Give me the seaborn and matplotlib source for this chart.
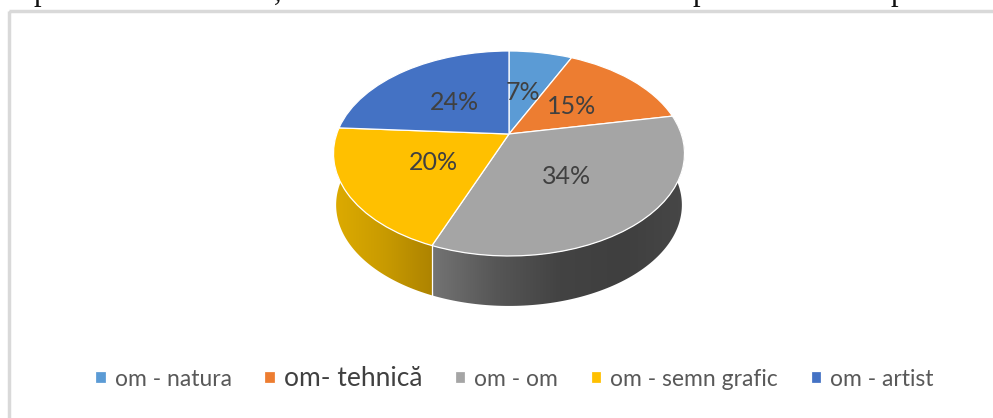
import matplotlib
matplotlib.use('Agg')
import matplotlib.pyplot as plt
import matplotlib.transforms as mtransforms
from matplotlib.colors import LinearSegmentedColormap
from matplotlib.patches import Polygon, Rectangle
import numpy as np
import seaborn as sns

# date
categories = ['om - natura', 'om- tehnică', 'om - om', 'om - semn grafic', 'om - artist']
values = [7, 15, 34, 20, 24]
colors = ['#5B9BD5', '#ED7D31', '#A5A5A5', '#FFC000', '#4472C4']

sns.set_theme(style='white')
plt.rcParams['font.family'] = ['Lato', 'DejaVu Sans']

# geometria discului in perspectiva (pixeli)
CX, CY = 509, 153.5
A, B, C, K = 172.3, 102.5, 19.5, 0.19
DEPTH = 51.5
BOTTOM_SCALE = 0.985


def project(u, v):
    d = 1 + K * v
    return CX + A * u / d, CY - (B * v + C) / d


class DiskProjection(mtransforms.Transform):
    input_dims = 2
    output_dims = 2

    def transform_non_affine(self, xy):
        xy = np.asarray(xy, dtype=float)
        x, y = project(xy[:, 0], xy[:, 1])
        return np.column_stack([x, y])


fig = plt.figure(figsize=(9.93, 4.18), dpi=100)
ax = fig.add_axes([0, 0, 1, 1])

wedges, _, pct_texts = ax.pie(values, colors=colors, startangle=90, counterclock=False,
                              autopct='%d%%', wedgeprops={'edgecolor': 'white', 'linewidth': 0.9})

ax.set_aspect('auto')
ax.set_xlim(0, 993)
ax.set_ylim(418, 0)
ax.axis('off')

proj = DiskProjection()
for w in wedges:
    w.set_transform(proj + ax.transData)
    w.set_zorder(5)
    w.set_clip_on(False)


def side_wall(wedge):
    # peretele lateral al feliei, cu gradient orizontal
    th = np.radians(np.linspace(wedge.theta1, wedge.theta2, 120))
    x1, y1 = project(np.cos(th), np.sin(th))
    x2 = CX + (x1 - CX) * BOTTOM_SCALE
    y2 = CY + (y1 - CY) * BOTTOM_SCALE + DEPTH
    pts = np.column_stack([np.r_[x1, x2[::-1]], np.r_[y1, y2[::-1]]])
    poly = Polygon(pts, closed=True, facecolor='none', edgecolor='none', transform=ax.transData)
    ax.add_patch(poly)
    return poly


gray_cmap = LinearSegmentedColormap.from_list('g', ['#737373', '#565656', '#434343', '#3f3f3f', '#474747'])
yellow_cmap = LinearSegmentedColormap.from_list('y', ['#DDAB00', '#C99B00', '#AD8300'])
grad = np.linspace(0, 1, 256).reshape(1, -1)

gray_wall = side_wall(wedges[2])
im = ax.imshow(grad, extent=(433, 686, 312, 100), aspect='auto', cmap=gray_cmap, zorder=2)
im.set_clip_path(gray_wall)

yellow_wall = side_wall(wedges[3])
im2 = ax.imshow(grad, extent=(334, 433, 312, 100), aspect='auto', cmap=yellow_cmap, zorder=2)
im2.set_clip_path(yellow_wall)

# muchia alba dintre pereti
x0, y0 = project(np.cos(np.radians(wedges[2].theta1)), np.sin(np.radians(wedges[2].theta1)))
ax.plot([x0, x0], [y0, y0 + DEPTH + 0.5], color='white', lw=0.9, zorder=3)

ax.set_xlim(0, 993)
ax.set_ylim(418, 0)

# etichete procentuale
label_pos = [(523, 92), (572, 106), (567, 176), (433, 163), (454, 103)]
for t, pos in zip(pct_texts, label_pos):
    t.set_transform(ax.transData)
    t.set_position(pos)
    t.set_fontsize(18)
    t.set_color('#404040')
    t.set_ha('center')
    t.set_va('center')
    t.set_zorder(6)

# legenda
leg = ax.legend(wedges, categories, ncol=5, loc='center', bbox_to_anchor=(514.5, 378),
                bbox_transform=ax.transData, frameon=False, fontsize=16.5,
                handlelength=0.45, handleheight=0.45, handletextpad=0.4, columnspacing=1.42)
for i, t in enumerate(leg.get_texts()):
    t.set_color('#595959')
    if i == 1:
        t.set_color('#404040')
        t.set_fontsize(19)

# chenarul graficului
ax.add_patch(Rectangle((8.5, 10.5), 1100, 500, facecolor='none', edgecolor='#D9D9D9', lw=2.5, zorder=1))

# capetele de litere din randul de text taiat de sus
for xt, s in [(41, 'p'), (278, ','), (700, 'p'), (898, 'p')]:
    ax.text(xt, 0, s, family='Liberation Serif', fontsize=22, color='#111111', ha='center', va='baseline')

fig.savefig('out.png', dpi=100)
